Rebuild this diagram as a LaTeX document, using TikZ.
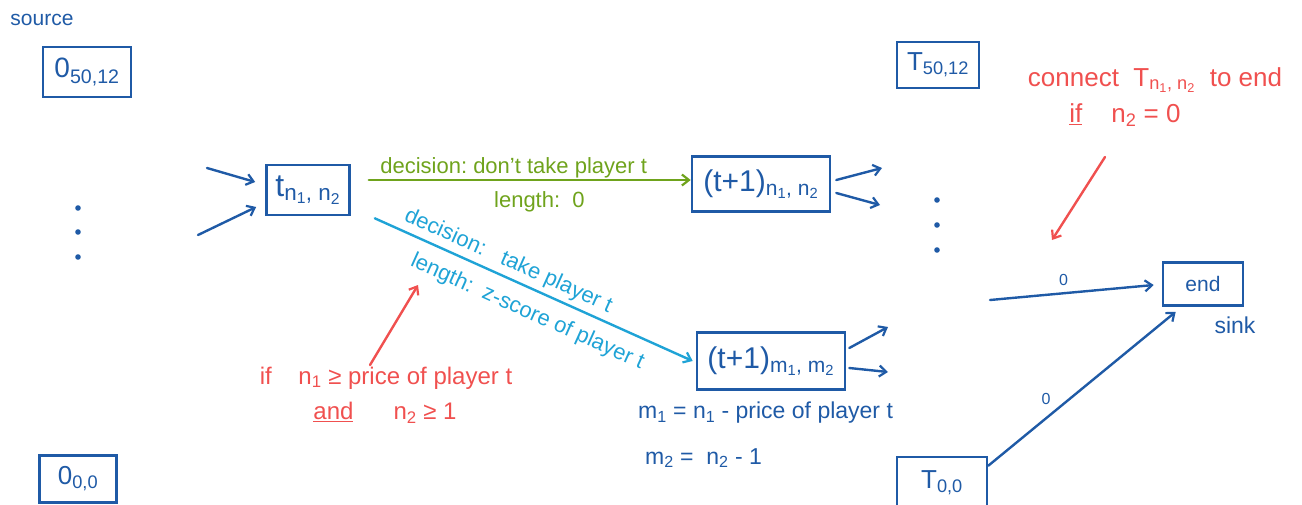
\documentclass[tikz,border=0pt]{standalone}
\usepackage{fontspec}
\setmainfont{Liberation Sans}
\usetikzlibrary{arrows.meta,calc}
\definecolor{dblue}{HTML}{1F5AA6}
\definecolor{dgreen}{HTML}{6FA31C}
\definecolor{dcyan}{HTML}{1FA3D6}
\definecolor{dred}{HTML}{F0504F}
\newcommand\fsz[1]{\fontsize{#1}{#1}\selectfont}
\newcommand\ssb[1]{\textsubscript{#1}}
\begin{document}
\begin{tikzpicture}[x=1pt,y=-1pt,
  box/.style={draw=dblue,line width=2.6pt,inner sep=0pt,text=dblue},
  blbl/.style={text=dblue,inner sep=0pt,font=\fsz{23}},
  rlbl/.style={text=dred,inner sep=0pt,font=\fsz{24},align=center},
  elbl/.style={inner sep=0pt,font=\fsz{22}},
  tip/.style={-{Straight Barb[length=7pt,width=11pt,line width=2.2pt]}},
  barrow/.style={tip,draw=dblue,line width=2.4pt,line cap=round},
  garrow/.style={tip,draw=dgreen,line width=2.4pt,line cap=round},
  carrow/.style={tip,draw=dcyan,line width=2.4pt,line cap=round},
  rarrow/.style={tip,draw=dred,line width=2.4pt,line cap=round},
  dotc/.style={fill=dblue,draw=none}]
\useasboundingbox (0,0) rectangle (1302,504);
% source
\node[blbl,font=\fsz{21}] (src) at (42,20) {source};
\node[box,minimum width=88,minimum height=50] (s) at (87,72) {\fsz{28}0\ssb{50,12}};
\node[box,minimum width=77,minimum height=47] (z) at (78,479) {\fsz{26}0\ssb{0,0}};
\foreach \yy [count=\i] in {208,232,257} \fill[dotc] (78,\yy) circle (2.8) coordinate (ld\i);
% t box
\node[box,minimum width=83,minimum height=50] (t) at (308,190) {\fsz{32}t\ssb{n\ssb{1}, n\ssb{2}}};
\coordinate (in1) at (207,168);
\coordinate (in2) at (198,235);
\draw[barrow] (in1) -- ([xshift=-10pt,yshift=8pt]t.west);
\draw[barrow] (in2) -- ([xshift=-9pt,yshift=-17pt]t.west);
% t+1 boxes
\node[box,minimum width=138,minimum height=55] (tn) at (761,184) {\fsz{30}(t+1)\ssb{n\ssb{1}, n\ssb{2}}};
\node[box,minimum width=148,minimum height=57] (tm) at (771,361) {\fsz{30}(t+1)\ssb{m\ssb{1}, m\ssb{2}}};
% green edge
\draw[garrow] ([xshift=18pt,yshift=4pt]t.east |- tn.west) -- ([yshift=4pt]tn.west)
  node[pos=0.45,above=1pt,text=dgreen,elbl] (gl1) {decision:\ don't take player t}
  node[pos=0.53,below=10pt,text=dgreen,elbl] (gl2) {length:\ \ 0};
% cyan edge
\draw[carrow] ([xshift=24pt,yshift=-2pt]t.south east) -- ([xshift=-3pt]tm.west)
  node[pos=0.40,sloped,above=4pt,text=dcyan,elbl] (cl1) {decision:\ \ \ take player t}
  node[pos=0.51,sloped,below=12pt,text=dcyan,elbl] (cl2) {length:\ \ z-score of player t};
% outgoing arrows
\coordinate (o1) at (882,168);
\coordinate (o2) at (880,205);
\coordinate (o3) at (888,327);
\coordinate (o4) at (888,372);
\draw[barrow] ([xshift=5pt,yshift=4pt]tn.east) -- (o1);
\draw[barrow] ([xshift=5pt,yshift=-9pt]tn.east) -- (o2);
\draw[barrow] ([xshift=3pt,yshift=13pt]tm.east) -- (o3);
\draw[barrow] ([xshift=3pt,yshift=-7pt]tm.east) -- (o4);
% red condition
\node[rlbl] (c1) at (386,378) {if\ \ \ \ n\ssb{1} ≥ price of player t};
\node[rlbl] (c2) at (385,413) {\underline{and}\ \ \ \ \ \ n\ssb{2} ≥ 1};
\coordinate (ra1) at (370,365);
\coordinate (ra2) at (418,285);
\draw[rarrow] (ra1) -- (ra2);
% m equations
\node[blbl,anchor=west] (m1) at (638,413) {m\ssb{1} = n\ssb{1} - price of player t};
\node[blbl,anchor=west] (m2) at (645,458) {m\ssb{2}\ = \ n\ssb{2} - 1};
% T boxes
\node[box,minimum width=82,minimum height=46] (T1) at (938,65) {\fsz{26}T\ssb{50,12}};
\node[box,minimum width=90,minimum height=52] (T0) at (942,483) {\fsz{26}T\ssb{0,0}};
\foreach \yy [count=\i] in {200,225,250} \fill[dotc] (937,\yy) circle (2.8) coordinate (rd\i);
% end
\node[box,minimum width=80,minimum height=43] (e) at (1203,284) {\fsz{21}end};
\node[blbl] (sink) at (1235,325) {sink};
\coordinate (ein) at (990,300);
\draw[barrow] (ein) -- ([xshift=-8pt,yshift=-1pt]e.west)
  node[pos=0.45,above=6pt,text=dblue,font=\fsz{16},inner sep=0pt] (z1) {0};
\draw[barrow] ([yshift=-10pt]T0.north east) -- ([xshift=14pt,yshift=-5pt]e.south west)
  node[pos=0.36,above left=4pt,text=dblue,font=\fsz{16},inner sep=0pt] (z2) {0};
% red note
\node[rlbl] (n1) at (1155,80) {\fsz{26}connect\ \ T\ssb{n\ssb{1}, n\ssb{2}}\ \ to end};
\node[rlbl] (n2) at (1125,115) {\fsz{26}\underline{if}\ \ \ \ n\ssb{2} = 0};
\coordinate (rb1) at (1105,157);
\coordinate (rb2) at (1052,240);
\draw[rarrow] (rb1) -- (rb2);
\end{tikzpicture}
\end{document}
